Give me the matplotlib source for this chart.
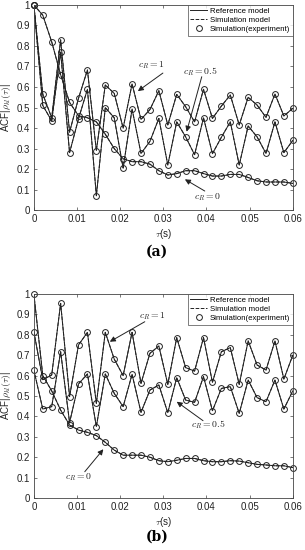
import matplotlib
matplotlib.use("Agg")
import matplotlib.pyplot as plt
import numpy as np

plt.rcParams['font.family'] = ['Liberation Sans', 'DejaVu Sans']
plt.rcParams['mathtext.fontset'] = 'cm'

# sample times (s)
tau = np.linspace(0, 0.06, 30)

# panel (a)
a_c1 = [1.0, 0.565, 0.45, 0.83, 0.38, 0.545, 0.683, 0.29, 0.61, 0.569, 0.40, 0.615, 0.442, 0.49, 0.582,
        0.415, 0.564, 0.504, 0.43, 0.589, 0.447, 0.507, 0.561, 0.415, 0.55, 0.512, 0.452, 0.566, 0.459, 0.496]
a_c05 = [1.0, 0.51, 0.435, 0.77, 0.28, 0.445, 0.589, 0.07, 0.50, 0.45, 0.205, 0.493, 0.276, 0.335, 0.447,
         0.22, 0.43, 0.357, 0.27, 0.45, 0.275, 0.355, 0.43, 0.22, 0.41, 0.357, 0.276, 0.43, 0.28, 0.34]
a_c0 = [1.0, 0.95, 0.82, 0.66, 0.525, 0.46, 0.45, 0.43, 0.37, 0.30, 0.25, 0.236, 0.236, 0.224, 0.192,
        0.171, 0.178, 0.192, 0.192, 0.178, 0.166, 0.166, 0.174, 0.174, 0.159, 0.143, 0.137, 0.137, 0.137, 0.13]

# panel (b)
b_c1 = [0.815, 0.58, 0.603, 0.954, 0.497, 0.75, 0.812, 0.464, 0.812, 0.681, 0.60, 0.812, 0.562, 0.709, 0.745,
        0.557, 0.786, 0.639, 0.622, 0.786, 0.567, 0.717, 0.737, 0.557, 0.77, 0.652, 0.627, 0.77, 0.583, 0.70]
b_c05 = [0.627, 0.436, 0.448, 0.717, 0.37, 0.559, 0.608, 0.35, 0.608, 0.513, 0.448, 0.606, 0.42, 0.529, 0.554,
         0.418, 0.59, 0.48, 0.469, 0.595, 0.428, 0.537, 0.546, 0.415, 0.578, 0.492, 0.472, 0.578, 0.436, 0.525]
b_c0 = [1.0, 0.60, 0.525, 0.431, 0.358, 0.333, 0.322, 0.306, 0.273, 0.235, 0.21, 0.21, 0.21, 0.2, 0.183,
        0.178, 0.185, 0.194, 0.194, 0.183, 0.178, 0.178, 0.183, 0.181, 0.173, 0.165, 0.162, 0.158, 0.158, 0.149]

# annotation (text pos, arrow tail, arrow head) in data coords
a_notes = [("$c_R = 1$", (0.0273, 0.707), (0.0299, 0.668), (0.0241, 0.580)),
           ("$c_R = 0.5$", (0.0385, 0.675), (0.0389, 0.65), (0.0354, 0.382)),
           ("$c_R = 0$", (0.0403, 0.065), (0.0396, 0.093), (0.0350, 0.150))]
b_notes = [("$c_R = 1$", (0.0276, 0.892), (0.0257, 0.864), (0.0176, 0.766)),
           ("$c_R = 0.5$", (0.0404, 0.358), (0.0392, 0.379), (0.0331, 0.472)),
           ("$c_R = 0$", (0.0103, 0.104), (0.0118, 0.129), (0.0161, 0.239))]

INK = '#222222'


def draw_panel(ax, series, notes):
    for s in series:
        ax.plot(tau, s, '-', color=INK, lw=0.7)
        ax.plot(tau, s, '--', color=INK, lw=0.7)
        ax.plot(tau, s, 'o', mfc='none', mec=INK, ms=4.2, mew=0.7, clip_on=False)
    for txt, tpos, tail, head in notes:
        ax.text(tpos[0], tpos[1], txt, fontsize=7, ha='center', va='center', color=INK)
        ax.annotate('', xy=head, xytext=tail,
                    arrowprops=dict(arrowstyle='-|>', color=INK, lw=0.7,
                                    mutation_scale=8, shrinkA=0, shrinkB=0))
    ax.set_xlim(0, 0.06)
    ax.set_ylim(0, 1)
    ax.set_xticks(np.arange(0, 0.061, 0.01))
    ax.set_xticklabels(['0', '0.01', '0.02', '0.03', '0.04', '0.05', '0.06'])
    ax.set_yticks(np.arange(0, 1.01, 0.1))
    ax.set_yticklabels(['0', '0.1', '0.2', '0.3', '0.4', '0.5', '0.6', '0.7', '0.8', '0.9', '1'])
    ax.tick_params(direction='in', top=True, right=True, labelsize=7, length=2.5, width=0.5,
                   colors='#444444', labelcolor=INK, pad=3)
    for sp in ax.spines.values():
        sp.set_linewidth(0.6)
        sp.set_color('#444444')
    ax.set_xlabel(r'$\tau$(s)', fontsize=7, labelpad=2, color=INK)
    ax.set_ylabel(r'ACF|$\rho_{kl}(\tau)$|', fontsize=7, labelpad=2, color=INK)
    h1, = ax.plot([], [], '-', color=INK, lw=0.7)
    h2, = ax.plot([], [], '--', color=INK, lw=0.7)
    h3, = ax.plot([], [], 'o', mfc='none', mec=INK, ms=4.2, mew=0.7)
    leg = ax.legend([h1, h2, h3], ['Reference model', 'Simulation model', 'Simulation(experiment)'],
                    loc='upper right', fontsize=5.6, frameon=True, fancybox=False, borderpad=0.35,
                    labelspacing=0.2, handlelength=2.2, handletextpad=0.3, borderaxespad=0.0)
    leg.get_frame().set_edgecolor('#444444')
    leg.get_frame().set_linewidth(0.6)


fig = plt.figure(figsize=(3.05, 5.5), dpi=100)
ax_a = fig.add_axes([0.111, 0.618, 0.849, 0.373])
ax_b = fig.add_axes([0.111, 0.0945, 0.849, 0.371])

draw_panel(ax_a, [a_c1, a_c05, a_c0], a_notes)
draw_panel(ax_b, [b_c1, b_c05, b_c0], b_notes)

fig.text(0.515, 1 - 252 / 550, '(a)', fontsize=10, fontweight='bold', family='DejaVu Serif',
         ha='center', va='center')
fig.text(0.515, 1 - 537 / 550, '(b)', fontsize=10, fontweight='bold', family='DejaVu Serif',
         ha='center', va='center')

fig.savefig('out.png', dpi=100)
